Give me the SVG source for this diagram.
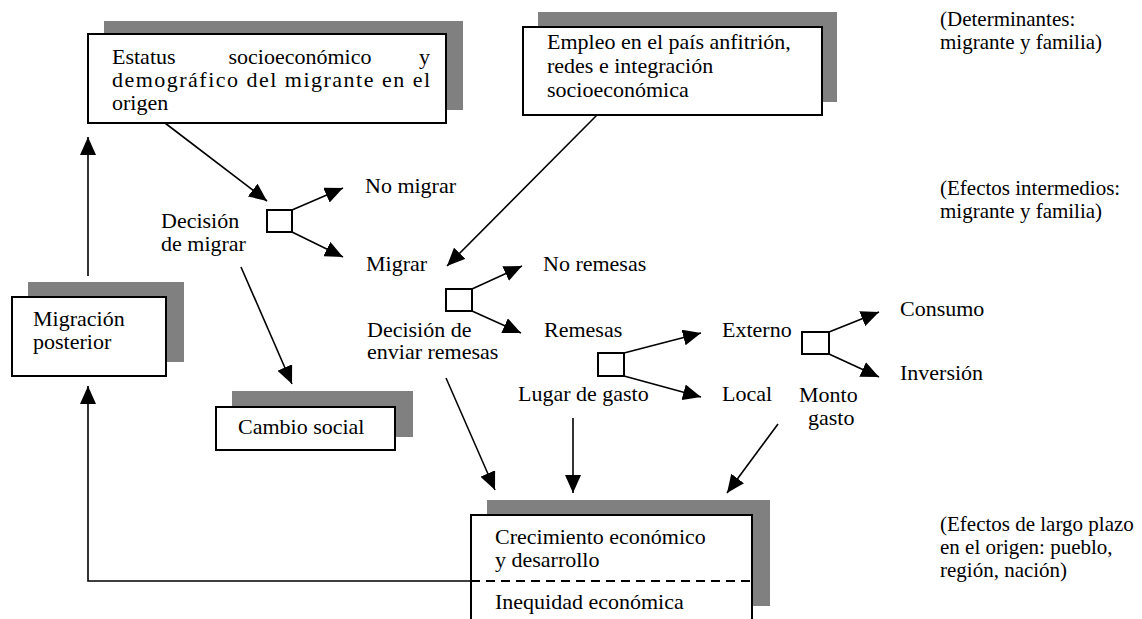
<svg xmlns="http://www.w3.org/2000/svg" width="1142" height="619" viewBox="0 0 1142 619">
<style>
text{font-family:"Liberation Serif","Times New Roman",serif;font-size:22px;fill:#000}
.lbl{font-size:21px}
.sh{fill:#808080}
.bx{fill:#fff;stroke:#000;stroke-width:2}
.sq{fill:#fff;stroke:#000;stroke-width:2}
.c{stroke:#000;stroke-width:1.6;fill:none}
</style>
<defs>
<marker id="ah" markerUnits="userSpaceOnUse" markerWidth="18" markerHeight="16" refX="18" refY="8" orient="auto" viewBox="0 0 18 16">
<path d="M0,0 L18,8 L0,16 z" fill="#000"/>
</marker>
</defs>
<rect width="1142" height="619" fill="#fff"/>
<g id="connectors">
<line class="c" x1="165" y1="123" x2="267" y2="201" marker-end="url(#ah)"/>
<line class="c" x1="598" y1="114" x2="447" y2="266" marker-end="url(#ah)"/>
<line class="c" x1="88" y1="276" x2="88" y2="137" marker-end="url(#ah)"/>
<line class="c" x1="292" y1="210" x2="343" y2="188" marker-end="url(#ah)"/>
<line class="c" x1="292" y1="232" x2="343" y2="257" marker-end="url(#ah)"/>
<line class="c" x1="241" y1="267" x2="292" y2="384" marker-end="url(#ah)"/>
<line class="c" x1="472" y1="289" x2="522" y2="266" marker-end="url(#ah)"/>
<line class="c" x1="472" y1="311" x2="521" y2="333" marker-end="url(#ah)"/>
<line class="c" x1="624" y1="353" x2="701" y2="333" marker-end="url(#ah)"/>
<line class="c" x1="624" y1="376" x2="701" y2="397" marker-end="url(#ah)"/>
<line class="c" x1="829" y1="332" x2="879" y2="312" marker-end="url(#ah)"/>
<line class="c" x1="829" y1="354" x2="879" y2="377" marker-end="url(#ah)"/>
<line class="c" x1="446" y1="378" x2="495" y2="490" marker-end="url(#ah)"/>
<line class="c" x1="573" y1="418" x2="573" y2="493" marker-end="url(#ah)"/>
<line class="c" x1="778" y1="424" x2="727" y2="493" marker-end="url(#ah)"/>
<polyline class="c" points="471,581 88,581 88,386" marker-end="url(#ah)"/>
</g>
<g id="estatus">
<rect class="sh" x="104" y="21" width="359" height="89"/>
<rect class="bx" x="88" y="34" width="358" height="89"/>
<text x="112" y="64">Estatus</text>
<text x="300" y="64" text-anchor="middle">socioeconómico</text>
<text x="430" y="64" text-anchor="end">y</text>
<text x="112" y="87" textLength="318" lengthAdjust="spacing">demográfico del migrante en el</text>
<text x="112" y="110">origen</text>
</g>
<g id="empleo">
<rect class="sh" x="538" y="12" width="299" height="90"/>
<rect class="bx" x="523" y="27" width="299" height="88"/>
<text x="547" y="49">Empleo en el país anfitrión,</text>
<text x="547" y="73">redes e integración</text>
<text x="547" y="97">socioeconómica</text>
</g>
<g id="migracion-posterior">
<rect class="sh" x="28" y="282" width="156" height="80"/>
<rect class="bx" x="12" y="297" width="154" height="79"/>
<text x="33" y="326">Migración</text>
<text x="33" y="349">posterior</text>
</g>
<g id="cambio-social">
<rect class="sh" x="232" y="391" width="181" height="46"/>
<rect class="bx" x="216" y="407" width="179" height="43"/>
<text x="238" y="434">Cambio social</text>
</g>
<g id="efectos-largo-plazo">
<rect class="sh" x="487" y="500" width="283" height="106"/>
<path class="bx" d="M471,619 V515 H752 V619"/>
<rect x="472" y="516" width="279" height="103" fill="#fff"/>
<line x1="471" y1="581" x2="752" y2="581" stroke="#000" stroke-width="2" stroke-dasharray="9,6"/>
<text x="495" y="544">Crecimiento económico</text>
<text x="495" y="567">y desarrollo</text>
<text x="495" y="609">Inequidad económica</text>
</g>
<g id="decision-migrar">
<rect class="sq" x="267" y="210" width="25" height="22"/>
<text x="161" y="228">Decisión</text>
<text x="161" y="251">de migrar</text>
<text x="365" y="193">No migrar</text>
<text x="366" y="271">Migrar</text>
</g>
<g id="decision-remesas">
<rect class="sq" x="446" y="289" width="26" height="22"/>
<text x="367" y="337">Decisión de</text>
<text x="367" y="359">enviar remesas</text>
<text x="543" y="271">No remesas</text>
<text x="544" y="337">Remesas</text>
</g>
<g id="lugar-gasto">
<rect class="sq" x="598" y="353" width="26" height="23"/>
<text x="518" y="401">Lugar de gasto</text>
<text x="722" y="337">Externo</text>
<text x="722" y="401">Local</text>
</g>
<g id="monto-gasto">
<rect class="sq" x="802" y="332" width="27" height="22"/>
<text x="799" y="402">Monto</text>
<text x="808" y="425">gasto</text>
<text x="900" y="316">Consumo</text>
<text x="900" y="380">Inversión</text>
</g>
<g id="labels">
<text class="lbl" x="940" y="26">(Determinantes:</text>
<text class="lbl" x="940" y="49">migrante y familia)</text>
<text class="lbl" x="940" y="195">(Efectos intermedios:</text>
<text class="lbl" x="940" y="218">migrante y familia)</text>
<text class="lbl" x="940" y="531">(Efectos de largo plazo</text>
<text class="lbl" x="940" y="554">en el origen: pueblo,</text>
<text class="lbl" x="940" y="577">región, nación)</text>
</g>
</svg>
